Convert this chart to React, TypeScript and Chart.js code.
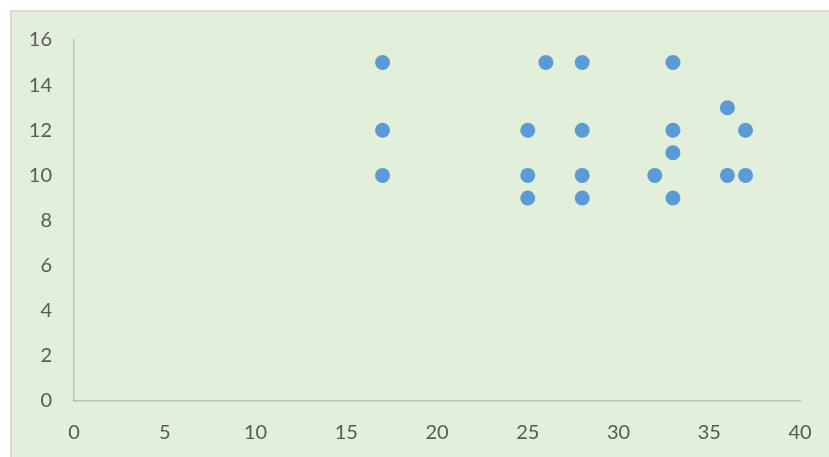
import React, { useEffect, useRef } from "react";
import { Chart, registerables } from "chart.js";

Chart.register(...registerables);

const xValues = [17, 17, 17, 25, 25, 25, 26, 28, 28, 28, 28, 32, 33, 33, 33, 33, 36, 36, 37, 37];
const yValues = [15, 12, 10, 12, 10, 9, 15, 15, 12, 10, 9, 10, 15, 12, 11, 9, 13, 10, 12, 10];
const xTicks = [0, 5, 10, 15, 20, 25, 30, 35, 40];
const yTicks = [0, 2, 4, 6, 8, 10, 12, 14, 16];

const W = 829;
const H = 457;

const bgPlugin = {
  id: "bgPlugin",
  beforeDraw(chart: any) {
    const ctx = chart.ctx;
    ctx.save();
    ctx.fillStyle = "#ffffff";
    ctx.fillRect(0, 0, W, H);
    ctx.fillStyle = "#E2EFDA";
    ctx.fillRect(10, 10, W - 10, H - 10);
    ctx.fillStyle = "#D9D9D9";
    ctx.fillRect(10, 10, W - 10, 2);
    ctx.fillRect(10, 10, 2, H - 10);
    ctx.restore();
  },
};

export default function App() {
  const ref = useRef<HTMLCanvasElement | null>(null);
  useEffect(() => {
    document.body.style.margin = "0";
    const data = xValues.map((x, i) => ({ x, y: yValues[i] }));
    const chart = new Chart(ref.current as HTMLCanvasElement, {
      type: "scatter",
      data: {
        datasets: [
          {
            data,
            backgroundColor: "#5B9BD5",
            borderColor: "#5B9BD5",
            borderWidth: 0,
            pointRadius: 7.5,
          },
        ],
      },
      options: {
        animation: false,
        responsive: false,
        events: [],
        layout: { padding: { left: 0, top: 40, right: 29, bottom: 0 } },
        plugins: { legend: { display: false }, tooltip: { enabled: false } },
        scales: {
          x: {
            type: "linear",
            min: 0,
            max: 40,
            afterFit: (s: any) => {
              s.height = 56;
              s.paddingLeft = 0;
              s.paddingRight = 0;
            },
            afterBuildTicks: (s: any) => {
              s.ticks = xTicks.map((v) => ({ value: v }));
            },
            grid: { display: false, drawTicks: false },
            border: { display: true, color: "#BFBFBF", width: 1.5 },
            ticks: {
              color: "#595959",
              padding: 20,
              maxRotation: 0,
              font: { family: "Lato", size: 20 },
            },
          },
          y: {
            type: "linear",
            min: 0,
            max: 16,
            afterFit: (s: any) => {
              s.width = 74;
              s.paddingTop = 0;
              s.paddingBottom = 0;
            },
            afterBuildTicks: (s: any) => {
              s.ticks = yTicks.map((v) => ({ value: v }));
            },
            grid: { display: false, drawTicks: false },
            border: { display: true, color: "#BFBFBF", width: 1.5 },
            ticks: {
              color: "#595959",
              padding: 22,
              font: { family: "Lato", size: 20 },
            },
          },
        },
      },
      plugins: [bgPlugin],
    });
    return () => chart.destroy();
  }, []);
  return (
    <div style={{ position: "absolute", left: 0, top: 0, width: W, height: H }}>
      <canvas ref={ref} width={W} height={H} style={{ width: W, height: H, display: "block" }} />
    </div>
  );
}
